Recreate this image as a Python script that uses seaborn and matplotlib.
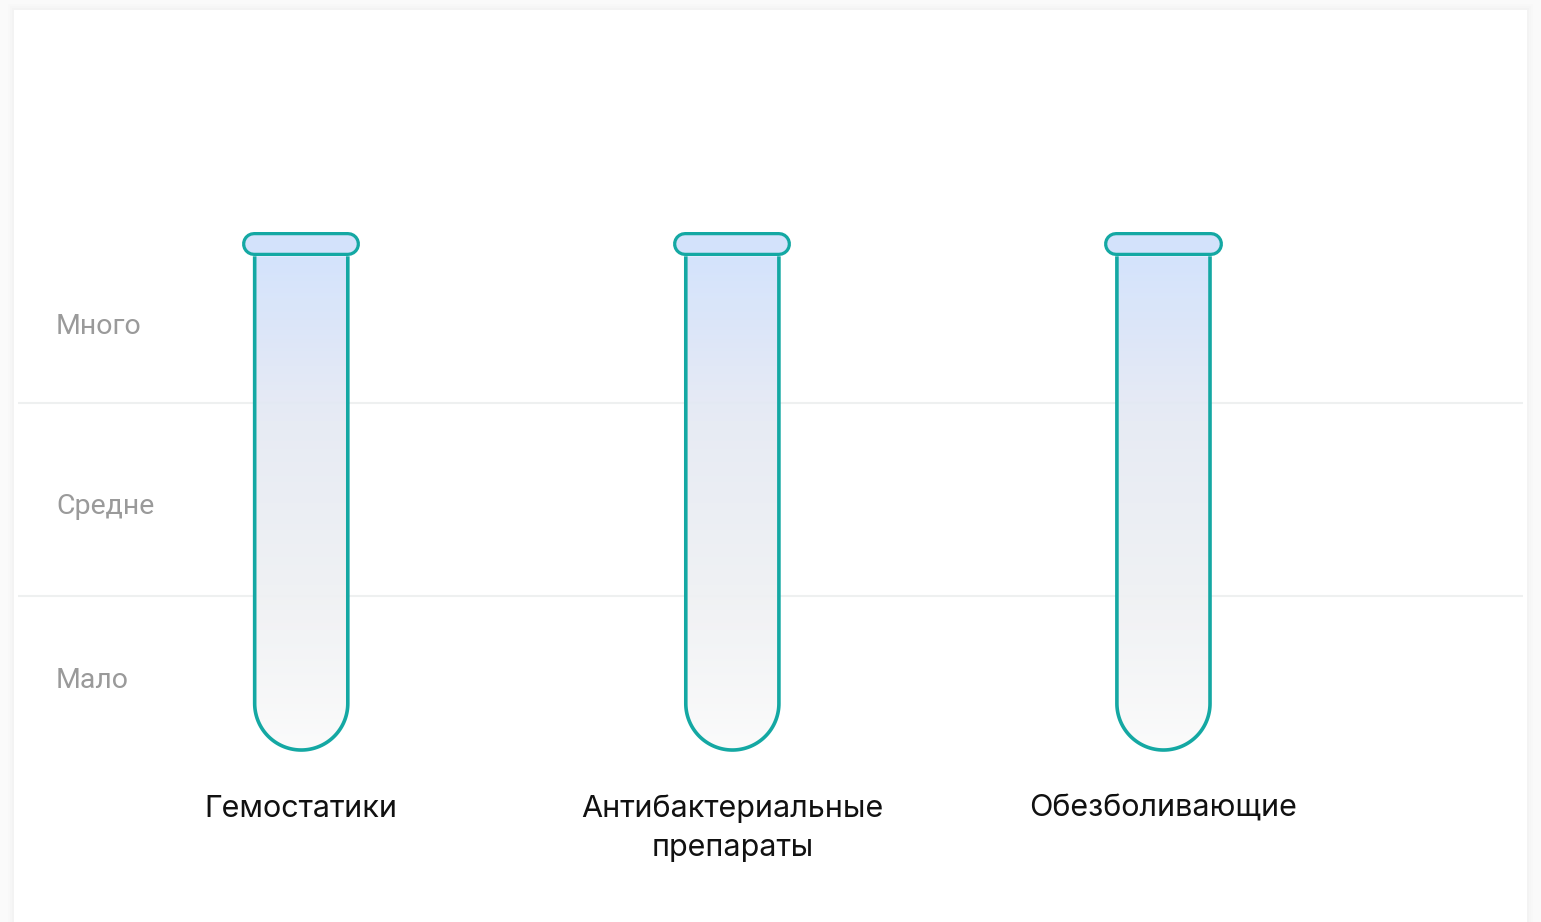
import numpy as np
import pandas as pd
import matplotlib
matplotlib.use("Agg")
import matplotlib.pyplot as plt
import seaborn as sns
from matplotlib.path import Path
from matplotlib.patches import PathPatch, Rectangle
from matplotlib.colors import LinearSegmentedColormap

# ---------------- data ----------------
categories = ["Гемостатики", "Антибактериальные\nпрепараты", "Обезболивающие"]
fill_levels = [2.76, 2.76, 2.76]          # fill height of each tube, in level units
level_labels = ["Мало", "Средне", "Много"]
level_label_pos = [0.58, 1.48, 2.41]
band_edges = [1, 2]

df = pd.DataFrame({"category": categories, "level": fill_levels})

# ---------------- style ----------------
sns.set_theme(style="white")
plt.rcParams["font.family"] = ["Inter", "DejaVu Sans"]

W, H, DPI = 1541, 922, 100
fig = plt.figure(figsize=(W / DPI, H / DPI), dpi=DPI, facecolor="#fafafa")

# card with soft shadow
for i, a in enumerate([0.006, 0.008, 0.01]):
    d = (3 - i) * 2
    fig.patches.append(Rectangle(((14 - d) / W, 0), (1513 + 2 * d) / W, (912 + d) / H,
                                 transform=fig.transFigure, facecolor="#000000",
                                 alpha=a, edgecolor="none", zorder=-5 + i))
fig.patches.append(Rectangle((14 / W, 0), 1513 / W, 912 / H, transform=fig.transFigure,
                             facecolor="white", edgecolor="none", zorder=-1))

left_px, right_px, top_px, bot_px = 18, 1523, 100, 789
ax = fig.add_axes([left_px / W, (H - bot_px) / H, (right_px - left_px) / W, (bot_px - top_px) / H])
ax.set_facecolor("none")

sns.barplot(data=df, x="category", y="level", ax=ax, width=0.216,
            facecolor=(0, 0, 0, 0), edgecolor=(0, 0, 0, 0), linewidth=0, errorbar=None)

ax.set_xlim(-0.657, 2.834)
ax.set_ylim(0, 3.57)
fig.canvas.draw()

for e in band_edges:
    ax.axhline(e, color="#eef0f0", lw=1.5, zorder=0.5)

for s in ax.spines.values():
    s.set_visible(False)

# px per data unit for aspect
p0 = ax.transData.transform((0, 0))
p1 = ax.transData.transform((1, 1))
px_x = p1[0] - p0[0]
px_y = p1[1] - p0[1]

teal = "#14a8a3"
cmap = LinearSegmentedColormap.from_list("tube", ["#fbfbfb", "#eef0f3", "#e6eaf4", "#d1e1fc"])
tube_bottom = 0.202
grad = np.linspace(0, 1, 256).reshape(-1, 1)

for bar in list(ax.patches):
    cx = bar.get_x() + bar.get_width() / 2
    hw = bar.get_width() / 2
    ytop = bar.get_height()
    ry = hw * px_x / px_y
    yc = tube_bottom + ry
    t = np.linspace(np.pi, 2 * np.pi, 80)
    arc = np.column_stack([cx + hw * np.cos(t), yc + ry * np.sin(t)])
    verts = np.vstack([[cx - hw, ytop], [cx - hw, yc], arc, [cx + hw, yc], [cx + hw, ytop]])
    # gradient fill clipped to tube
    closed = np.vstack([verts, verts[:1]])
    clip = PathPatch(Path(closed), transform=ax.transData, facecolor="none", edgecolor="none")
    ax.add_patch(clip)
    im = ax.imshow(grad, cmap=cmap, extent=(cx - hw, cx + hw, tube_bottom, ytop),
                   origin="lower", aspect="auto", zorder=2, alpha=0.93)
    im.set_clip_path(clip)
    ax.add_patch(PathPatch(Path(verts), transform=ax.transData, facecolor="none",
                           edgecolor=teal, lw=2.6, zorder=3))
    # cap
    cap_hw = 0.274 / 2
    cap_h = 24 / px_y
    cap_y = ytop + cap_h / 2
    r_x = (cap_h * px_y / 2) / px_x
    ax.plot([cx - cap_hw + r_x, cx + cap_hw - r_x], [cap_y, cap_y], color=teal,
            lw=24 * 72 / DPI, solid_capstyle="round", zorder=4)
    ax.plot([cx - cap_hw + r_x, cx + cap_hw - r_x], [cap_y, cap_y], color="#d3e2fb",
            lw=17.5 * 72 / DPI, solid_capstyle="round", zorder=5)

# y level labels
ax.set_yticks(level_label_pos)
ax.set_yticklabels(level_labels, fontsize=20.5, color="#9a9a9a", family=["Roboto", "DejaVu Sans"])
for lab in ax.get_yticklabels():
    lab.set_horizontalalignment("left")
ax.tick_params(axis="y", length=0, pad=-38 * 72 / DPI)

# category labels
ax.set_xlabel("")
ax.set_ylabel("")
ax.set_xticks(range(len(categories)))
ax.set_xticklabels(categories, fontsize=22, color="#111111", linespacing=1.48)
ax.tick_params(axis="x", length=0, pad=4)

fig.savefig("out.png", dpi=DPI, facecolor=fig.get_facecolor())
